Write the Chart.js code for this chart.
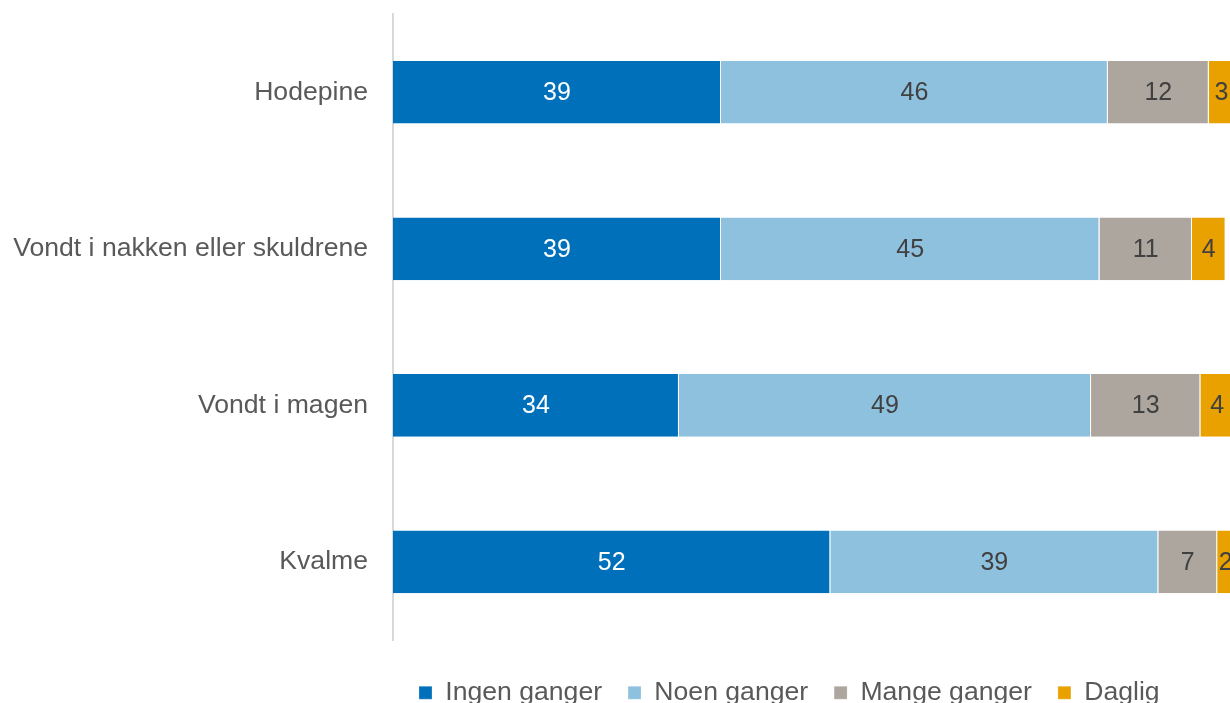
<!DOCTYPE html>
<html>
<head>
<meta charset="utf-8">
<script src="https://cdn.jsdelivr.net/npm/chart.js@4/dist/chart.umd.min.js"></script>
<style>
  html, body { margin: 0; padding: 0; background: #fff; overflow: hidden; }
  #wrap { width: 1240px; height: 716px; }
</style>
</head>
<body>
<div id="wrap"><canvas id="c" width="1240" height="716"></canvas></div>
<script>
// Symptoms and share of answers (percent) per frequency
const categories = ['Hodepine', 'Vondt i nakken eller skuldrene', 'Vondt i magen', 'Kvalme'];
const seriesNames = ['Ingen ganger', 'Noen ganger', 'Mange ganger', 'Daglig'];
const ingenGanger = [39, 39, 34, 52];
const noenGanger = [46, 45, 49, 39];
const mangeGanger = [12, 11, 13, 7];
const daglig = [3, 4, 4, 2];

const colors = ['#0070BA', '#8EC1DE', '#ADA69F', '#E9A100'];
const valueColors = ['#FFFFFF', '#404040', '#404040', '#404040'];
const seriesValues = [ingenGanger, noenGanger, mangeGanger, daglig];

// Writes each segment's value in the middle of its bar
const valueLabels = {
  id: 'valueLabels',
  afterDatasetsDraw(chart) {
    const ctx = chart.ctx;
    ctx.save();
    ctx.font = '25px "Liberation Sans", Arial, sans-serif';
    ctx.textAlign = 'center';
    ctx.textBaseline = 'middle';
    chart.data.datasets.forEach((ds, di) => {
      const meta = chart.getDatasetMeta(di);
      meta.data.forEach((bar, i) => {
        const p = bar.getProps(['x', 'y', 'base'], true);
        ctx.fillStyle = valueColors[di];
        ctx.fillText(String(ds.data[i]), (p.x + p.base) / 2, p.y + 1);
      });
    });
    ctx.restore();
  }
};

new Chart(document.getElementById('c'), {
  type: 'bar',
  data: {
    labels: categories,
    datasets: seriesNames.map((name, i) => ({
      label: name,
      data: seriesValues[i],
      backgroundColor: colors[i],
      borderColor: '#FFFFFF',
      borderWidth: { left: 0, right: 1, top: 0, bottom: 0 },
      borderSkipped: false,
      barPercentage: 0.4,
      categoryPercentage: 1
    }))
  },
  options: {
    indexAxis: 'y',
    responsive: false,
    animation: false,
    layout: { padding: { top: 14, right: 6, left: 0, bottom: 0 } },
    scales: {
      x: {
        stacked: true,
        min: 0,
        max: 100,
        display: false
      },
      y: {
        stacked: true,
        grid: { display: false, drawTicks: false },
        border: { display: true, color: '#D9D9D9', width: 2 },
        ticks: {
          padding: 25,
          color: '#595959',
          font: { family: '"Liberation Sans", Arial, sans-serif', size: 26.6 }
        },
        afterFit(scale) {
          scale.width = 393;
          scale.paddingTop = 0;
          scale.paddingBottom = 0;
        }
      }
    },
    plugins: {
      tooltip: { enabled: false },
      legend: {
        position: 'bottom',
        align: 'start',
        fullSize: false,
        // empty title used only as a spacer above the legend row
        title: { display: true, text: ' ', font: { size: 1 }, padding: { top: 12, bottom: 0 } },
        labels: {
          boxWidth: 13,
          boxHeight: 13,
          padding: 26,
          color: '#595959',
          font: { family: '"Liberation Sans", Arial, sans-serif', size: 26.6 }
        }
      }
    }
  },
  plugins: [valueLabels]
});
</script>
</body>
</html>
